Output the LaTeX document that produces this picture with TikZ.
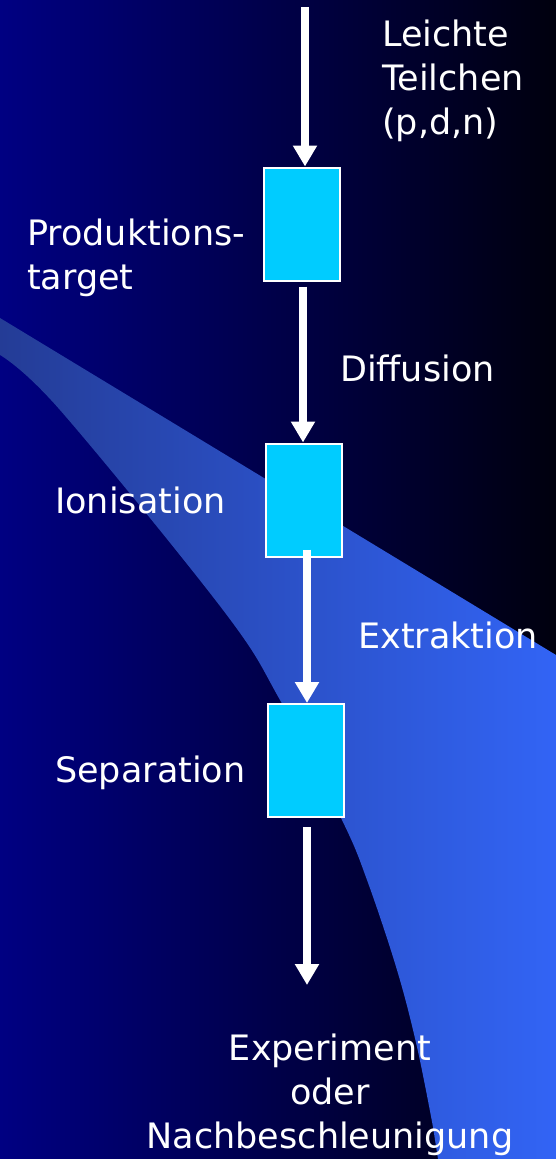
\documentclass[tikz,border=0pt]{standalone}
\usepackage{fontspec}
\setmainfont{DejaVu Sans}
\usetikzlibrary{arrows.meta,calc}
\definecolor{bgleft}{RGB}{0,0,130}
\definecolor{bgright}{RGB}{0,0,14}
\definecolor{bandleft}{RGB}{36,60,150}
\definecolor{bandright}{RGB}{50,100,245}
\definecolor{boxfill}{RGB}{0,204,255}
\tikzset{
  stagebox/.style={draw=white, line width=2pt, fill=boxfill, minimum width=76pt, minimum height=113pt, inner sep=0pt},
  flowarrow/.style={draw=white, line width=8pt, -{Triangle[width=23pt,length=21pt]}},
  lbl/.style={text=white, inner sep=0pt, font=\fontsize{35}{44}\selectfont},
}
\begin{document}
\begin{tikzpicture}[x=1pt,y=-1pt]
\useasboundingbox (0,0) rectangle (556,1159);
% background
\shade[left color=bgleft, right color=bgright] (0,0) rectangle (556,1159);
% light blue swoosh band
\shade[left color=bandleft, right color=bandright]
  (0,318) -- (556,655) -- (556,1159) -- (438,1159)
  -- plot[smooth, tension=0.6] coordinates {(433,1127) (417,1047) (397,970) (367,880) (342,820) (280,700) (223,610) (60,410) (0,355)}
  -- cycle;
% boxes
\node[stagebox] (b1) at (302,224) {};
\node[stagebox] (b2) at (304,500) {};
\node[stagebox] (b3) at (306,760.5) {};
% arrows
\coordinate (start1) at (305,7);
\coordinate (end4) at (307,985);
\draw[flowarrow] (start1) -- (start1 |- b1.north);
\draw[flowarrow] ([xshift=1pt,yshift=-5pt]b1.south) -- ([xshift=-1pt]b2.north);
\draw[flowarrow] ([xshift=3pt,yshift=8pt]b2.south) -- ([xshift=1pt]b3.north);
\draw[flowarrow] ([xshift=1pt,yshift=-9pt]b3.south) -- (end4);
% labels (multi-line nodes: base = last line)
\node[lbl, anchor=base west, align=left] (tin) at (382,134) {Leichte\\Teilchen\\(p,d,n)};
\node[lbl, anchor=base west, align=left] (tprod) at (27,289) {Produktions-\\target};
\node[lbl, anchor=base west] (tdiff) at (340,381) {Diffusion};
\node[lbl, anchor=base west] (tion) at (55,513) {Ionisation};
\node[lbl, anchor=base west] (text) at (358,648) {Extraktion};
\node[lbl, anchor=base west] (tsep) at (55,782) {Separation};
\node[lbl, anchor=base, align=center] (tout) at (330,1148) {Experiment\\oder\\Nachbeschleunigung};
\end{tikzpicture}
\end{document}
